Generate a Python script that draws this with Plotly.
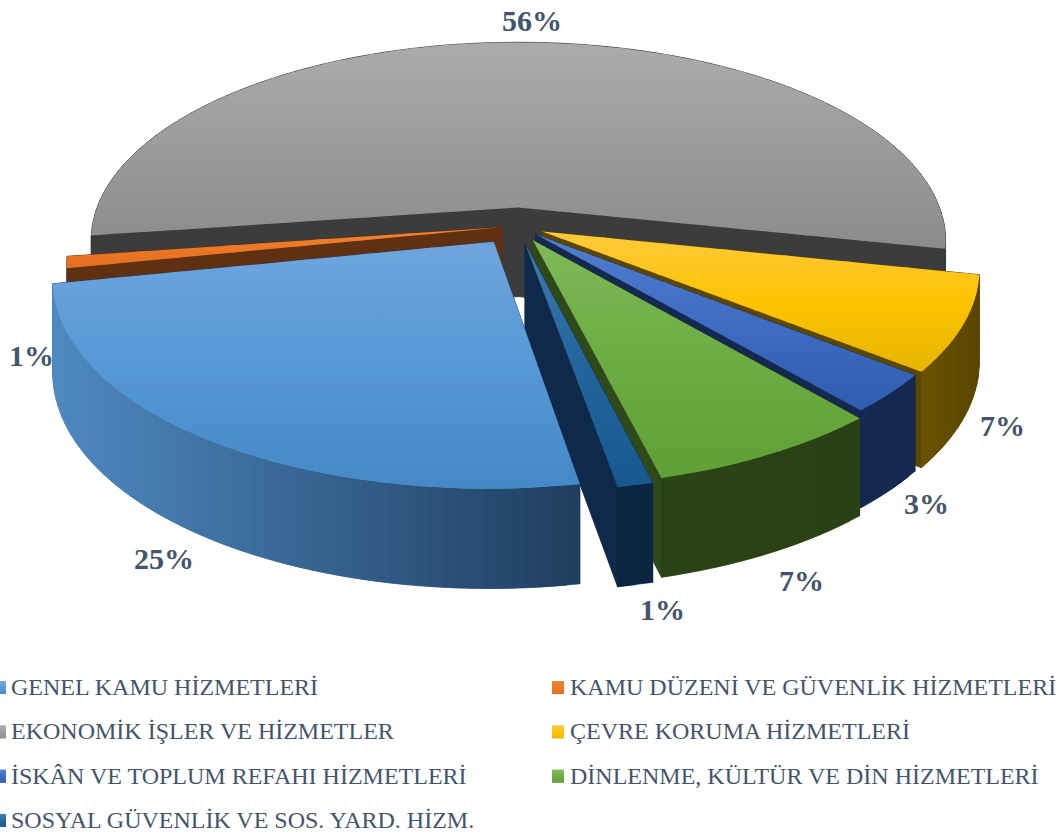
import math
import plotly.graph_objects as go

categories = ["GENEL KAMU HİZMETLERİ", "KAMU DÜZENİ VE GÜVENLİK HİZMETLERİ", "EKONOMİK İŞLER VE HİZMETLER",
              "ÇEVRE KORUMA HİZMETLERİ", "İSKÂN VE TOPLUM REFAHI HİZMETLERİ", "DİNLENME, KÜLTÜR VE DİN HİZMETLERİ",
              "SOSYAL GÜVENLİK VE SOS. YARD. HİZM."]
values = [24.6, 0.9, 55.6, 7.4, 3.0, 7.4, 1.1]
top_light = ["#6ea5dd", "#f0822f", "#ababab", "#ffc93a", "#527dcf", "#7fb95a", "#3e79b0"]
top_mid = ["#5698d6", "#ea7726", "#9b9b9b", "#fdc300", "#3e6cc2", "#6cac42", "#22649c"]
top_dark = ["#4488c8", "#e46c1c", "#8b8b8b", "#e5b400", "#2d5cb0", "#5f9f35", "#17588f"]
wall_left = ["#4f8ac2", "#5a2c0a", "#3c3c3c", "#6a5200", "#14294f", "#2b4416", "#0c2742"]
wall_right = ["#203f61", "#663718", "#3c3c3c", "#5c4700", "#14294f", "#2a4115", "#0b2540"]
cut_color = ["#203f61", "#5f3012", "#3c3c3c", "#5c4700", "#14294f", "#2f4a1a", "#10294a"]
explode = [0.095, 0.035, 0.095, 0.065, 0.06, 0.08, 0.09]

TEXT = "#44546a"
FONT = "Liberation Serif"
CX, CY, R, P, K, H, Q = 517, 226, 428, 0.17, 0.465, 90, 0.1
FIRST = 170.0
draw_order = [2, 1, 3, 4, 5, 6, 0]
LABEL_R = [1.215, 1.115, 1.255, 1.15, 1.15, 1.19, 1.29]
LABEL_DROP = [0.92, 0.99, 0.0, 0.98, 0.96, 0.98, 0.63]


def project(a, r, z=0.0, ox=0.0, oy=0.0):
    rad = math.radians(a)
    X = ox + r * math.sin(rad)
    Y = oy - r * math.cos(rad)
    s = 1 / (1 - P * Y)
    return CX + R * X * s, CY + R * K * Y * s + z * H * (1 + Q * Y)


def clip(poly, y0, y1):
    def cut(pts, keep, at):
        out = []
        for i, p in enumerate(pts):
            q = pts[(i + 1) % len(pts)]
            if keep(p):
                out.append(p)
            if keep(p) != keep(q):
                t = (at - p[1]) / (q[1] - p[1])
                out.append((p[0] + t * (q[0] - p[0]), at))
        return out
    out = cut(poly, lambda p: p[1] >= y0, y0)
    return cut(out, lambda p: p[1] <= y1, y1) if out else out


def mix(c1, c2, t):
    t = max(0, min(1, t))
    a = [int(c1[i:i + 2], 16) for i in (1, 3, 5)]
    b = [int(c2[i:i + 2], 16) for i in (1, 3, 5)]
    return "#" + "".join(f"{round(u + (v - u) * t):02x}" for u, v in zip(a, b))


def mix3(c1, c2, c3, t):
    return mix(c1, c2, t * 2) if t < 0.5 else mix(c2, c3, t * 2 - 1)


fig = go.Figure()


def fill(poly, color, stroke=0.5):
    fig.add_trace(go.Scatter(x=[p[0] for p in poly] + [poly[0][0]], y=[p[1] for p in poly] + [poly[0][1]],
                             mode="lines", fill="toself", fillcolor=color, line=dict(color=color, width=stroke),
                             hoverinfo="skip", showlegend=False))


def gradient(polys, c1, c2, c3, step=6):
    ys = [p[1] for poly in polys for p in poly]
    lo, hi = min(ys), max(ys)
    y = lo
    while y < hi:
        color = mix3(c1, c2, c3, (y - lo) / max(hi - lo, 1))
        for poly in polys:
            band = clip(poly, y, y + step + 1)
            if len(band) >= 3:
                fill(band, color, stroke=0)
        y += step


total = sum(values)
starts, mids, spans = [], [], []
acc = FIRST
for v in values:
    span = 360 * v / total
    starts.append(acc)
    spans.append(span)
    mids.append(acc + span / 2)
    acc += span

for i in draw_order:
    a0, span, mid = starts[i], spans[i], mids[i]
    e = explode[i]
    ox, oy = e * math.sin(math.radians(mid)), -e * math.cos(math.radians(mid))
    n = max(2, int(span / 1.5))
    angs = [a0 + span * j / n for j in range(n + 1)]
    apex_t = project(0, 0, 0, ox, oy)
    apex_b = project(0, 0, 1, ox, oy)
    for a in (a0, a0 + span):
        fill([apex_t, project(a, 1, 0, ox, oy), project(a, 1, 1, ox, oy), apex_b], cut_color[i], stroke=1)
    # outer wall, shaded from its left end to its right end
    xs = [project(a, 1, 0, ox, oy)[0] for a in angs]
    lo, hi = min(xs), max(xs)
    for j in range(n):
        a, b = angs[j], angs[min(j + 2, n)]
        pa, pb = project(a, 1, 0, ox, oy), project(b, 1, 0, ox, oy)
        qa, qb = project(a, 1, 1, ox, oy), project(b, 1, 1, ox, oy)
        fill([pa, pb, qb, qa], mix(wall_left[i], wall_right[i], (pa[0] - lo) / max(hi - lo, 1)))
    # the top face is cut into convex wedges so that the shading bands stay clean
    parts = max(1, math.ceil(span / 80))
    wedges = []
    for p in range(parts):
        sub = angs[round(n * p / parts): min(n, round(n * (p + 1) / parts) + 1) + 1]
        wedges.append([apex_t] + [project(a, 1, 0, ox, oy) for a in sub])
    gradient(wedges, top_light[i], top_mid[i], top_dark[i])

annots = []
for i, v in enumerate(values):
    x, y = project(mids[i], LABEL_R[i], LABEL_DROP[i])
    annots.append(dict(x=x, y=y, text=f"<b>{round(v)}%</b>", showarrow=False, xref="x", yref="y",
                       font=dict(family=FONT, size=30, color=TEXT), xanchor="center", yanchor="middle"))

# legend: two columns, coloured swatch then label
for i, name in enumerate(categories):
    col, row = i % 2, i // 2
    x0 = 0 if col == 0 else 552
    yc = 687 + 44.3 * row
    sx0, sx1 = (x0 - 6, x0 + 6) if col == 0 else (x0, x0 + 12)
    gradient([[(sx0, yc - 6), (sx1, yc - 6), (sx1, yc + 7), (sx0, yc + 7)]],
             top_light[i], top_mid[i], top_dark[i], step=3)
    annots.append(dict(x=sx1 + (3 if col == 0 else 4), y=yc, text=name, showarrow=False, xref="x", yref="y",
                       xanchor="left", yanchor="middle", font=dict(family=FONT, size=24, color=TEXT)))

fig.update_layout(width=1062, height=835, margin=dict(l=0, r=0, t=0, b=0), autosize=False,
                  paper_bgcolor="white", plot_bgcolor="white", showlegend=False, annotations=annots,
                  xaxis=dict(range=[0, 1062], visible=False, fixedrange=True),
                  yaxis=dict(range=[835, 0], visible=False, fixedrange=True))
fig.write_html("out.html", config=dict(displayModeBar=False),
               post_script="document.body.style.margin='0';document.body.style.overflow='hidden';")
